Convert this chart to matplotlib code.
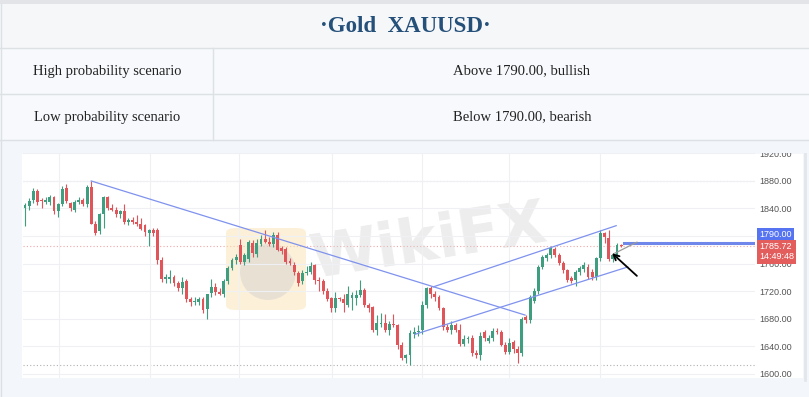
import numpy as np
import matplotlib
matplotlib.use('Agg')
import matplotlib.pyplot as plt
from matplotlib.patches import Rectangle, FancyBboxPatch, Ellipse
from matplotlib.ticker import FuncFormatter

# table text
title = '·Gold  XAUUSD·'
scenario_labels = ['High probability scenario', 'Low probability scenario']
scenario_texts = ['Above 1790.00, bullish', 'Below 1790.00, bearish']

# daily candles, XAUUSD
opens = [1840, 1843, 1852, 1866, 1852, 1850, 1850, 1856, 1836, 1846,
         1870, 1848, 1838, 1850, 1852, 1846, 1871, 1818, 1807, 1832,
         1856, 1840, 1838, 1832, 1836, 1820, 1823, 1821, 1817, 1816,
         1804, 1808, 1808, 1765, 1738, 1738, 1741, 1732, 1724, 1734,
         1709, 1704, 1704, 1709, 1694, 1717, 1726, 1718, 1716, 1734,
         1754, 1765, 1787, 1762, 1766, 1790, 1774, 1788, 1796, 1792,
         1788, 1801, 1782, 1781, 1764, 1758, 1746, 1734, 1746, 1748,
         1758, 1736, 1734, 1720, 1710, 1695, 1710, 1708, 1700, 1710,
         1710, 1714, 1722, 1700, 1697, 1663, 1672, 1674, 1663, 1672,
         1670, 1641, 1622, 1627, 1658, 1660, 1663, 1700, 1724, 1715,
         1711, 1695, 1667, 1664, 1670, 1664, 1643, 1650, 1651, 1630,
         1627, 1660, 1648, 1652, 1662, 1660, 1642, 1632, 1646, 1636,
         1630, 1682, 1678, 1706, 1720, 1755, 1768, 1772, 1781, 1772,
         1761, 1750, 1739, 1736, 1748, 1752, 1755, 1748, 1740, 1768,
         1804, 1797, 1766, 1771, 1787]
highs = [1848, 1855, 1870, 1868, 1855, 1856, 1859, 1858, 1848, 1872,
         1876, 1850, 1852, 1856, 1855, 1874, 1880, 1822, 1834, 1858,
         1858, 1846, 1842, 1838, 1846, 1826, 1828, 1830, 1826, 1818,
         1810, 1812, 1812, 1770, 1745, 1750, 1744, 1735, 1740, 1738,
         1712, 1712, 1712, 1712, 1716, 1737, 1732, 1725, 1738, 1756,
         1768, 1774, 1795, 1776, 1794, 1794, 1795, 1802, 1808, 1798,
         1806, 1806, 1786, 1784, 1768, 1762, 1749, 1750, 1756, 1762,
         1760, 1740, 1738, 1725, 1712, 1718, 1712, 1715, 1728, 1718,
         1722, 1736, 1724, 1703, 1698, 1685, 1688, 1686, 1676, 1686,
         1672, 1646, 1628, 1664, 1668, 1670, 1705, 1726, 1727, 1720,
         1714, 1697, 1672, 1676, 1674, 1672, 1656, 1654, 1656, 1634,
         1660, 1664, 1656, 1666, 1666, 1664, 1646, 1652, 1649, 1640,
         1682, 1685, 1714, 1724, 1758, 1772, 1776, 1786, 1784, 1775,
         1764, 1752, 1742, 1750, 1756, 1762, 1760, 1752, 1770, 1808,
         1806, 1809, 1776, 1790, 1789]
lows = [1815, 1838, 1848, 1845, 1840, 1846, 1845, 1832, 1828, 1844,
        1848, 1836, 1835, 1846, 1843, 1842, 1817, 1802, 1803, 1812,
        1838, 1836, 1828, 1826, 1818, 1816, 1818, 1815, 1808, 1800,
        1785, 1800, 1760, 1733, 1732, 1732, 1728, 1720, 1715, 1704,
        1698, 1700, 1700, 1688, 1680, 1712, 1714, 1714, 1712, 1730,
        1750, 1760, 1760, 1758, 1762, 1770, 1770, 1786, 1790, 1786,
        1784, 1778, 1774, 1760, 1758, 1744, 1728, 1730, 1743, 1745,
        1730, 1720, 1715, 1705, 1690, 1690, 1705, 1690, 1697, 1692,
        1700, 1712, 1697, 1690, 1660, 1656, 1668, 1660, 1656, 1668,
        1636, 1620, 1616, 1613, 1652, 1654, 1658, 1696, 1710, 1706,
        1692, 1664, 1660, 1658, 1661, 1640, 1640, 1645, 1626, 1622,
        1620, 1648, 1644, 1648, 1657, 1640, 1628, 1628, 1630, 1616,
        1626, 1674, 1674, 1702, 1716, 1752, 1764, 1768, 1770, 1758,
        1746, 1733, 1732, 1728, 1744, 1748, 1738, 1736, 1736, 1764,
        1790, 1764, 1762, 1768, 1784]
closes = [1845, 1851, 1866, 1850, 1851, 1853, 1856, 1836, 1846, 1868,
          1851, 1840, 1849, 1852, 1846, 1871, 1818, 1805, 1832, 1856,
          1840, 1838, 1832, 1836, 1821, 1823, 1821, 1817, 1810, 1806,
          1808, 1805, 1765, 1738, 1740, 1741, 1732, 1724, 1733, 1709,
          1704, 1706, 1708, 1693, 1715, 1726, 1718, 1716, 1734, 1754,
          1765, 1770, 1762, 1773, 1791, 1776, 1790, 1795, 1792, 1788,
          1801, 1780, 1778, 1762, 1761, 1747, 1732, 1746, 1748, 1757,
          1736, 1734, 1720, 1708, 1695, 1710, 1708, 1702, 1715, 1714,
          1714, 1722, 1700, 1695, 1663, 1673, 1674, 1663, 1672, 1670,
          1641, 1623, 1627, 1659, 1660, 1662, 1700, 1724, 1715, 1711,
          1695, 1667, 1664, 1670, 1664, 1643, 1650, 1651, 1630, 1627,
          1655, 1652, 1652, 1662, 1660, 1642, 1632, 1645, 1636, 1630,
          1680, 1678, 1712, 1720, 1755, 1770, 1772, 1782, 1772, 1761,
          1750, 1736, 1735, 1748, 1754, 1758, 1740, 1740, 1768, 1804,
          1798, 1767, 1772, 1787, 1785.72]

last_time = '14:49:48'
key_level = 1790.00
price_ticks = [1600, 1640, 1680, 1720, 1760, 1800, 1840, 1880, 1920]
hidden_ticks = [1800]  # sits under the price boxes
period_starts = [8.2, 30.2, 51.7, 74.2, 95.9, 116.9, 138.9]

# trend lines drawn on the chart: (start bar, start price, end bar, end price)
trend_lines = [(16, 1880, 120.8, 1685),
               (98.6, 1726, 142.8, 1815),
               (94.2, 1657, 145.6, 1755)]

W, H = 809, 397
green = '#3f9e7f'
red = '#e0555a'


def fx(x):
    return x / W


def fy(y):
    return 1 - y / H


fig = plt.figure(figsize=(W / 100, H / 100), dpi=100, facecolor='#f3f6fa')

# white chart area
fig.patches.append(Rectangle((fx(22), fy(378)), fx(803) - fx(22), (378 - 154) / H,
                             transform=fig.transFigure, facecolor='white',
                             edgecolor='none', zorder=-1))

# ---- candlestick chart ----
ax = fig.add_axes([fx(23), fy(378), fx(755) - fx(23), (378 - 153) / H])
ax.patch.set_alpha(0)
x_right = 176.33
ax.set_xlim(-0.48, x_right)
ax.set_ylim(1593.5, 1920.7)
for s in ax.spines.values():
    s.set_visible(False)

idx = np.arange(len(closes))
o = np.array(opens, dtype=float)
c = np.array(closes, dtype=float)
hi = np.array(highs, dtype=float)
lo = np.array(lows, dtype=float)
cols = [green if cc >= oo else red for oo, cc in zip(o, c)]
ax.vlines(idx, lo, hi, colors=cols, lw=0.8, zorder=3)
ax.bar(idx, np.maximum(np.abs(c - o), 0.9), bottom=np.minimum(o, c), width=0.7,
       color=cols, zorder=3.1)

ax.set_yticks(price_ticks)
ax.yaxis.set_major_formatter(
    FuncFormatter(lambda v, p: '' if v in hidden_ticks else f'{v:.2f}'))
ax.yaxis.tick_right()
ax.set_xticks(period_starts)
ax.tick_params(axis='x', length=0, labelbottom=False)
ax.tick_params(axis='y', length=0, pad=3, labelsize=6.5, labelcolor='#555555')
for lab in ax.get_yticklabels():
    lab.set_family('Liberation Sans')
ax.grid(True, color='#eef0f3', lw=0.8, zorder=0)

# high / low / last price dotted lines
ax.axhline(max(highs), color='#b0b0b0', ls=(0, (1, 2)), lw=0.8, zorder=1)
ax.axhline(min(lows), color='#b0b0b0', ls=(0, (1, 2)), lw=0.8, zorder=1)
ax.axhline(closes[-1], color='#f0a8a8', ls=(0, (1, 2)), lw=0.8, zorder=1)

for x0, y0, x1, y1 in trend_lines:
    ax.plot([x0, x1], [y0, y1], color='#7f92ee', lw=0.9, zorder=4)

ax.plot([144.7, x_right], [key_level, key_level], color='#6f86ea', lw=2.2, zorder=4)
ax.plot([142.5, 147.8], [1775, 1791], color='#9a9a9a', lw=0.9, zorder=4)
ax.annotate('', xy=(141.8, 1775), xytext=(147.8, 1742),
            arrowprops=dict(arrowstyle='->', color='black', lw=1.3,
                            shrinkA=0, shrinkB=0), zorder=5)

# watermark
ax.add_patch(FancyBboxPatch((fx(226), fy(310)), fx(80), 82 / H,
                            boxstyle='round,pad=0,rounding_size=0.012',
                            transform=fig.transFigure, facecolor='#fae3b4',
                            edgecolor='none', alpha=0.5, zorder=1))
ax.add_patch(Ellipse((fx(268), fy(272)), fx(56), 56 / H, transform=fig.transFigure,
                     facecolor='#c9c9cc', edgecolor='none', alpha=0.4, zorder=1.1))
ax.text(fx(428), fy(243), 'WikiFX', transform=fig.transFigure, rotation=9,
        fontsize=44, fontweight='bold', color='#d2d2d2', alpha=0.4,
        ha='center', va='center', zorder=1.2)

# price labels on the scale
ax.annotate(f'{key_level:.2f}', xy=(1, key_level), xycoords=('axes fraction', 'data'),
            xytext=(4, 8), textcoords='offset pixels', ha='left', va='center',
            fontsize=6.5, color='white', family='Liberation Sans',
            bbox=dict(boxstyle='square,pad=0.25', fc='#5674f2', ec='none'),
            annotation_clip=False, zorder=6)
ax.annotate(f'{closes[-1]:.2f}\n{last_time}', xy=(1, closes[-1]),
            xycoords=('axes fraction', 'data'), xytext=(4, -6),
            textcoords='offset pixels', ha='left', va='center', linespacing=1.15,
            fontsize=6.5, color='white', family='Liberation Sans',
            bbox=dict(boxstyle='square,pad=0.25', fc='#e35d5d', ec='none'),
            annotation_clip=False, zorder=6)

# ---- table on top ----
tab = fig.add_axes([0, fy(153), 1, 153 / H])
tab.set_zorder(5)
tab.set_xlim(0, W)
tab.set_ylim(153, 0)
tab.axis('off')
tab.add_patch(Rectangle((0, 0), W, 153, facecolor='#f3f6fa', edgecolor='none'))
tab.add_patch(Rectangle((0, 0), W, 4, facecolor='#e2e4e8', edgecolor='none'))
tab.add_patch(Rectangle((0, 4), W, 44, facecolor='#f6f7f9', edgecolor='none'))
tab.add_patch(Rectangle((0, 48), W, 92, facecolor='#f7f9fc', edgecolor='none'))
for yy in [48, 94, 140]:
    tab.plot([0, W], [yy, yy], color='#dde1e6', lw=1)
tab.plot([213, 213], [48, 140], color='#dde1e6', lw=1)
tab.plot([0.5, 0.5], [4, 153], color='#dde1e6', lw=1)
tab.text(405, 26, title, ha='center', va='center', fontsize=16.5, fontweight='bold',
         family='Liberation Serif', color='#25507a')
for k, (lab, txt) in enumerate(zip(scenario_labels, scenario_texts)):
    yc = 71 + 46 * k
    tab.text(107, yc, lab, ha='center', va='center', fontsize=10.5,
             family='Liberation Serif', color='#222222')
    tab.text(522, yc, txt, ha='center', va='center', fontsize=10.5,
             family='Liberation Serif', color='#222222')

# right edge bar
fig.lines.append(plt.Line2D([fx(804.5), fx(804.5)], [fy(380), fy(140)],
                            transform=fig.transFigure, color='#e3e6eb', lw=2))
fig.lines.append(plt.Line2D([fx(0.5), fx(0.5)], [fy(397), fy(140)],
                            transform=fig.transFigure, color='#dde1e6', lw=1))

fig.savefig('out.png', dpi=100, facecolor=fig.get_facecolor())
